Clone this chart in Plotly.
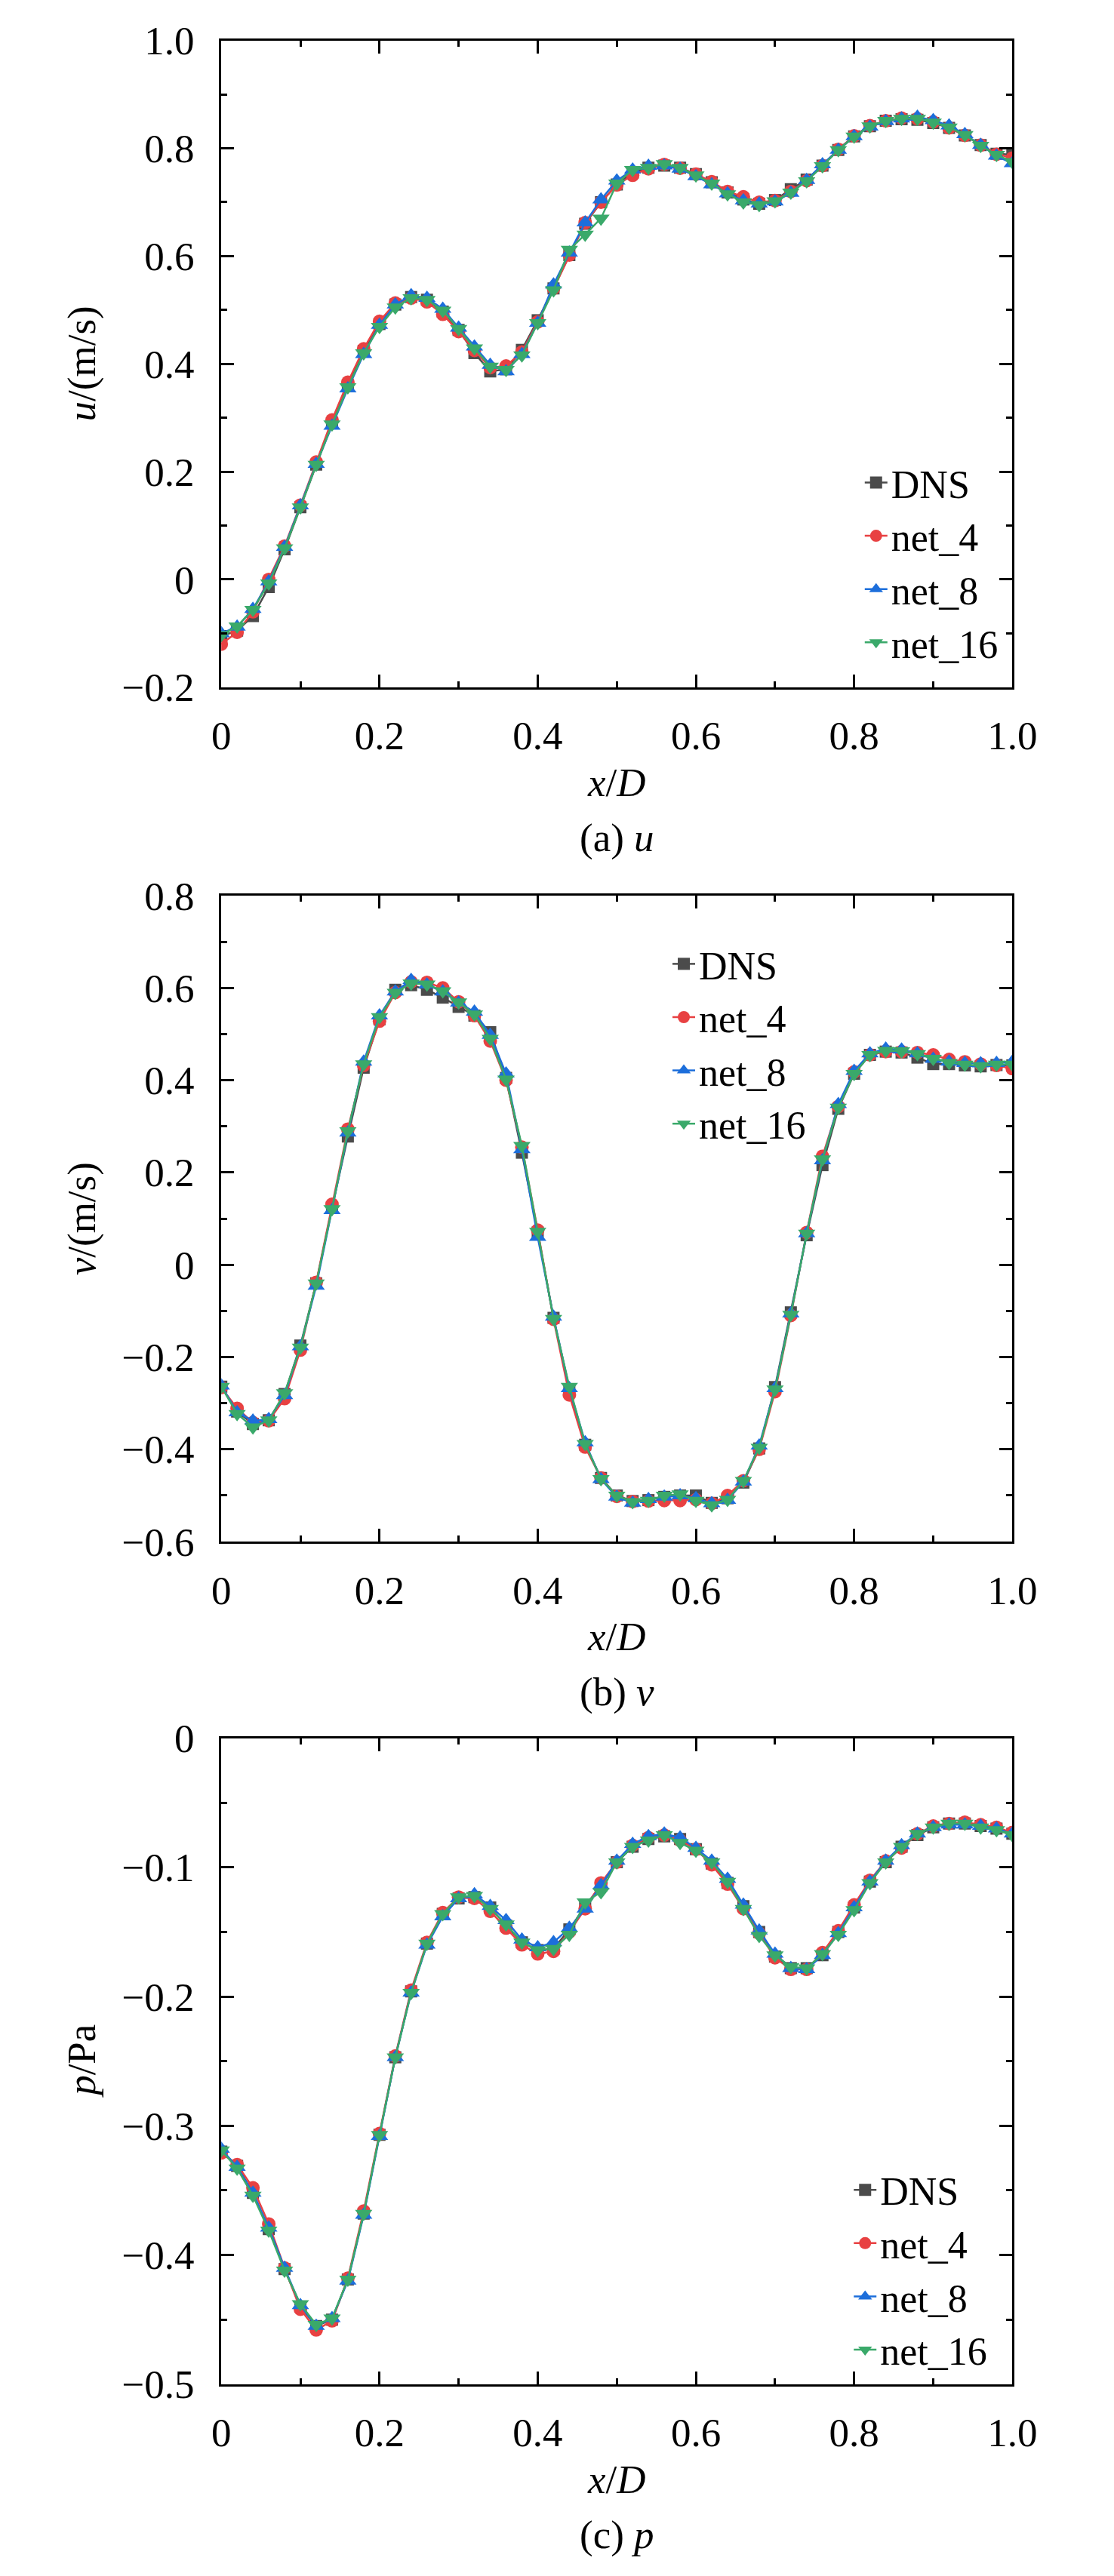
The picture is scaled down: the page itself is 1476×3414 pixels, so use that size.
import plotly.graph_objects as go

# ---------------- data ----------------
x_d = [0.00, 0.02, 0.04, 0.06, 0.08, 0.10, 0.12, 0.14, 0.16, 0.18,
       0.20, 0.22, 0.24, 0.26, 0.28, 0.30, 0.32, 0.34, 0.36, 0.38,
       0.40, 0.42, 0.44, 0.46, 0.48, 0.50, 0.52, 0.54, 0.56, 0.58,
       0.60, 0.62, 0.64, 0.66, 0.68, 0.70, 0.72, 0.74, 0.76, 0.78,
       0.80, 0.82, 0.84, 0.86, 0.88, 0.90, 0.92, 0.94, 0.96, 0.98, 1.00]

series_names = ["DNS", "net_4", "net_8", "net_16"]

# panel (a): u
u_dns = [-0.105, -0.095, -0.068, -0.014, 0.056, 0.134, 0.213, 0.290, 0.360, 0.424,
         0.474, 0.510, 0.524, 0.519, 0.497, 0.463, 0.420, 0.386, 0.390, 0.426,
         0.481, 0.540, 0.602, 0.660, 0.700, 0.733, 0.755, 0.764, 0.768, 0.764,
         0.752, 0.737, 0.718, 0.705, 0.697, 0.704, 0.724, 0.742, 0.768, 0.797,
         0.822, 0.841, 0.851, 0.854, 0.853, 0.847, 0.838, 0.824, 0.806, 0.790, 0.788]
u_net4 = [-0.120, -0.098, -0.060, 0.000, 0.062, 0.138, 0.218, 0.296, 0.366, 0.428,
          0.479, 0.513, 0.522, 0.515, 0.492, 0.460, 0.425, 0.393, 0.396, 0.422,
          0.478, 0.540, 0.602, 0.662, 0.700, 0.732, 0.750, 0.762, 0.770, 0.763,
          0.752, 0.738, 0.720, 0.710, 0.700, 0.703, 0.720, 0.740, 0.768, 0.798,
          0.823, 0.842, 0.851, 0.856, 0.855, 0.849, 0.838, 0.824, 0.806, 0.789, 0.782]
u_net8 = [-0.100, -0.088, -0.055, -0.004, 0.060, 0.137, 0.214, 0.285, 0.354, 0.418,
          0.472, 0.510, 0.527, 0.522, 0.502, 0.467, 0.432, 0.398, 0.386, 0.418,
          0.476, 0.547, 0.606, 0.662, 0.705, 0.740, 0.760, 0.767, 0.768, 0.762,
          0.748, 0.733, 0.716, 0.703, 0.697, 0.701, 0.717, 0.741, 0.770, 0.797,
          0.822, 0.840, 0.850, 0.855, 0.858, 0.852, 0.842, 0.826, 0.806, 0.786, 0.772]
u_net16 = [-0.103, -0.087, -0.056, -0.007, 0.058, 0.134, 0.213, 0.288, 0.357, 0.420,
           0.469, 0.505, 0.522, 0.519, 0.499, 0.465, 0.429, 0.395, 0.389, 0.416,
           0.476, 0.537, 0.612, 0.640, 0.670, 0.735, 0.760, 0.764, 0.771, 0.764,
           0.750, 0.735, 0.715, 0.700, 0.695, 0.702, 0.718, 0.739, 0.767, 0.797,
           0.822, 0.841, 0.851, 0.855, 0.855, 0.848, 0.839, 0.825, 0.805, 0.788, 0.775]

# panel (b): v
v_dns = [-0.264, -0.318, -0.345, -0.337, -0.280, -0.175, -0.040, 0.124, 0.278, 0.427,
         0.532, 0.596, 0.606, 0.596, 0.579, 0.559, 0.540, 0.504, 0.405, 0.243,
         0.070, -0.115, -0.270, -0.390, -0.462, -0.500, -0.512, -0.510, -0.503, -0.500,
         -0.500, -0.516, -0.506, -0.472, -0.398, -0.265, -0.103, 0.064, 0.216, 0.338,
         0.414, 0.455, 0.462, 0.460, 0.449, 0.435, 0.435, 0.432, 0.430, 0.433, 0.432]
v_net4 = [-0.266, -0.311, -0.342, -0.338, -0.290, -0.185, -0.038, 0.131, 0.294, 0.432,
          0.528, 0.590, 0.613, 0.612, 0.600, 0.570, 0.540, 0.485, 0.400, 0.255,
          0.075, -0.118, -0.282, -0.395, -0.462, -0.502, -0.513, -0.512, -0.511, -0.511,
          -0.509, -0.517, -0.500, -0.468, -0.400, -0.275, -0.110, 0.070, 0.235, 0.343,
          0.418, 0.455, 0.462, 0.462, 0.460, 0.455, 0.445, 0.440, 0.435, 0.432, 0.425]
v_net8 = [-0.262, -0.320, -0.338, -0.335, -0.283, -0.177, -0.046, 0.118, 0.286, 0.440,
          0.540, 0.592, 0.617, 0.607, 0.592, 0.568, 0.548, 0.498, 0.414, 0.250,
          0.060, -0.113, -0.268, -0.385, -0.465, -0.503, -0.516, -0.508, -0.503, -0.500,
          -0.506, -0.517, -0.510, -0.470, -0.392, -0.268, -0.106, 0.068, 0.226, 0.348,
          0.420, 0.458, 0.468, 0.466, 0.458, 0.446, 0.440, 0.437, 0.436, 0.437, 0.440]
v_net16 = [-0.264, -0.323, -0.352, -0.337, -0.278, -0.179, -0.040, 0.121, 0.290, 0.435,
           0.537, 0.590, 0.610, 0.608, 0.593, 0.569, 0.543, 0.490, 0.402, 0.258,
           0.072, -0.117, -0.264, -0.388, -0.464, -0.500, -0.514, -0.511, -0.500, -0.497,
           -0.511, -0.521, -0.509, -0.468, -0.396, -0.270, -0.108, 0.068, 0.229, 0.341,
           0.414, 0.455, 0.464, 0.463, 0.457, 0.447, 0.438, 0.434, 0.431, 0.434, 0.434]

# panel (c): p
p_dns = [-0.320, -0.331, -0.352, -0.380, -0.411, -0.440, -0.455, -0.450, -0.419, -0.368,
         -0.307, -0.247, -0.196, -0.159, -0.136, -0.124, -0.123, -0.131, -0.145, -0.158,
         -0.164, -0.163, -0.148, -0.130, -0.114, -0.096, -0.084, -0.078, -0.076, -0.078,
         -0.086, -0.097, -0.112, -0.130, -0.150, -0.169, -0.178, -0.178, -0.168, -0.150,
         -0.131, -0.111, -0.096, -0.084, -0.075, -0.069, -0.066, -0.066, -0.068, -0.070, -0.074]
p_net4 = [-0.321, -0.330, -0.348, -0.376, -0.410, -0.442, -0.458, -0.451, -0.418, -0.366,
          -0.306, -0.246, -0.195, -0.158, -0.135, -0.123, -0.124, -0.134, -0.147, -0.160,
          -0.167, -0.165, -0.150, -0.132, -0.112, -0.096, -0.083, -0.077, -0.075, -0.079,
          -0.086, -0.098, -0.113, -0.132, -0.151, -0.170, -0.179, -0.179, -0.166, -0.149,
          -0.129, -0.110, -0.095, -0.085, -0.074, -0.068, -0.066, -0.065, -0.067, -0.069, -0.073]
p_net8 = [-0.318, -0.332, -0.352, -0.379, -0.410, -0.439, -0.455, -0.449, -0.420, -0.369,
          -0.308, -0.247, -0.197, -0.160, -0.138, -0.124, -0.121, -0.130, -0.141, -0.156,
          -0.162, -0.158, -0.147, -0.132, -0.114, -0.095, -0.082, -0.076, -0.074, -0.077,
          -0.085, -0.095, -0.109, -0.129, -0.149, -0.167, -0.178, -0.179, -0.168, -0.151,
          -0.131, -0.111, -0.095, -0.083, -0.074, -0.069, -0.067, -0.067, -0.068, -0.070, -0.074]
p_net16 = [-0.319, -0.333, -0.354, -0.381, -0.412, -0.438, -0.454, -0.449, -0.419, -0.368,
           -0.307, -0.247, -0.197, -0.159, -0.136, -0.123, -0.122, -0.132, -0.144, -0.158,
           -0.164, -0.163, -0.152, -0.127, -0.119, -0.096, -0.084, -0.079, -0.075, -0.081,
           -0.087, -0.096, -0.111, -0.132, -0.153, -0.168, -0.177, -0.178, -0.167, -0.152,
           -0.133, -0.112, -0.096, -0.084, -0.074, -0.069, -0.066, -0.066, -0.069, -0.071, -0.075]

# tick labels
x_tickvals = [0, 0.2, 0.4, 0.6, 0.8, 1.0]
x_ticktext = ["0", "0.2", "0.4", "0.6", "0.8", "1.0"]
x_minorvals = [0.1, 0.3, 0.5, 0.7, 0.9]

ya_tickvals = [-0.2, 0, 0.2, 0.4, 0.6, 0.8, 1.0]
ya_ticktext = ["\u22120.2", "0", "0.2", "0.4", "0.6", "0.8", "1.0"]
ya_minorvals = [-0.1, 0.1, 0.3, 0.5, 0.7, 0.9]

yb_tickvals = [-0.6, -0.4, -0.2, 0, 0.2, 0.4, 0.6, 0.8]
yb_ticktext = ["\u22120.6", "\u22120.4", "\u22120.2", "0", "0.2", "0.4", "0.6", "0.8"]
yb_minorvals = [-0.5, -0.3, -0.1, 0.1, 0.3, 0.5, 0.7]

yc_tickvals = [-0.5, -0.4, -0.3, -0.2, -0.1, 0]
yc_ticktext = ["\u22120.5", "\u22120.4", "\u22120.3", "\u22120.2", "\u22120.1", "0"]
yc_minorvals = [-0.45, -0.35, -0.25, -0.15, -0.05]

# ---------------- styling ----------------
PAGE_W, PAGE_H = 1476, 3414
OFF = 8                       # default body margin of the html page
W, H = PAGE_W - OFF, PAGE_H - 2 * OFF
FONT = "Liberation Serif"
colors = ["#4b4b4b", "#e84142", "#1c6edb", "#3aa96a"]
symbols = ["square", "circle", "triangle-up", "triangle-down"]
msizes = [16, 18, 20, 20]


def pxp(X):
    return (X - OFF) / W


def pyp(Y):
    return 1 - (Y - OFF) / H


x_dom = [pxp(289), pxp(1371)]
panels = [
    dict(ys=[u_dns, u_net4, u_net8, u_net16], top=26, bot=898, rng=[-0.2, 1.0],
         tv=ya_tickvals, tt=ya_ticktext, mv=ya_minorvals,
         ytitle="<i>u</i>/(m/s)", cap="(a) <i>u</i>",
         leg_x=1164, leg_y=730),
    dict(ys=[v_dns, v_net4, v_net8, v_net16], top=1179, bot=2050, rng=[-0.6, 0.8],
         tv=yb_tickvals, tt=yb_ticktext, mv=yb_minorvals,
         ytitle="<i>v</i>/(m/s)", cap="(b) <i>v</i>",
         leg_x=901, leg_y=1379),
    dict(ys=[p_dns, p_net4, p_net8, p_net16], top=2315, bot=3186, rng=[-0.5, 0.0],
         tv=yc_tickvals, tt=yc_ticktext, mv=yc_minorvals,
         ytitle="<i>p</i>/Pa", cap="(c) <i>p</i>",
         leg_x=1149, leg_y=3032),
]

fig = go.Figure()
layout = dict(
    width=W, height=H,
    margin=dict(l=0, r=0, t=0, b=0),
    paper_bgcolor="white", plot_bgcolor="white",
    font=dict(family=FONT, size=53, color="black"),
    annotations=[],
)

axis_common = dict(
    showline=True, linecolor="black", linewidth=3, mirror="ticks",
    ticks="inside", ticklen=17, tickwidth=3, tickcolor="black",
    showgrid=False, zeroline=False,
    tickfont=dict(family=FONT, size=53, color="black"),
)

for i, pnl in enumerate(panels):
    k = "" if i == 0 else str(i + 1)
    xa, ya = "x" + k, "y" + k
    leg = "legend" + k
    for j, name in enumerate(series_names):
        fig.add_trace(go.Scatter(
            x=x_d, y=pnl["ys"][j], name=name, xaxis=xa, yaxis=ya, legend=leg,
            mode="lines+markers",
            line=dict(color=colors[j], width=2.5),
            marker=dict(symbol=symbols[j], size=msizes[j], color=colors[j],
                        line=dict(width=0)),
        ))
    layout["xaxis" + k] = dict(
        axis_common, domain=x_dom, anchor=ya, range=[0, 1.0],
        tickmode="array", tickvals=x_tickvals, ticktext=x_ticktext,
        minor=dict(tickmode="array", tickvals=x_minorvals, ticks="inside",
                   ticklen=8, tickwidth=3, tickcolor="black"),
        ticklabelstandoff=16,
    )
    layout["yaxis" + k] = dict(
        axis_common, domain=[pyp(pnl["bot"]), pyp(pnl["top"])], anchor=xa,
        range=pnl["rng"],
        tickmode="array", tickvals=pnl["tv"], ticktext=pnl["tt"],
        minor=dict(tickmode="array", tickvals=pnl["mv"], ticks="inside",
                   ticklen=8, tickwidth=3, tickcolor="black"),
        ticklabelstandoff=22,
    )
    layout[leg] = dict(
        x=pxp(pnl["leg_x"]), y=pyp(pnl["leg_y"]), xanchor="left", yanchor="middle",
        bgcolor="rgba(0,0,0,0)", borderwidth=0,
        font=dict(family=FONT, size=52, color="black"),
    )
    mid = (pnl["top"] + pnl["bot"]) / 2
    layout["annotations"] += [
        dict(text=pnl["ytitle"], x=pxp(98), y=pyp(mid), xref="paper", yref="paper",
             textangle=-90, showarrow=False, xanchor="center", yanchor="middle",
             font=dict(family=FONT, size=53, color="black")),
        dict(text="<i>x</i>/<i>D</i>", x=pxp(830), y=pyp(pnl["bot"] + 128),
             xref="paper", yref="paper", showarrow=False,
             xanchor="center", yanchor="middle",
             font=dict(family=FONT, size=53, color="black")),
        dict(text=pnl["cap"], x=pxp(830), y=pyp(pnl["bot"] + 203),
             xref="paper", yref="paper", showarrow=False,
             xanchor="center", yanchor="middle",
             font=dict(family=FONT, size=53, color="black")),
    ]

fig.update_layout(**layout)
fig.write_html("out.html")
